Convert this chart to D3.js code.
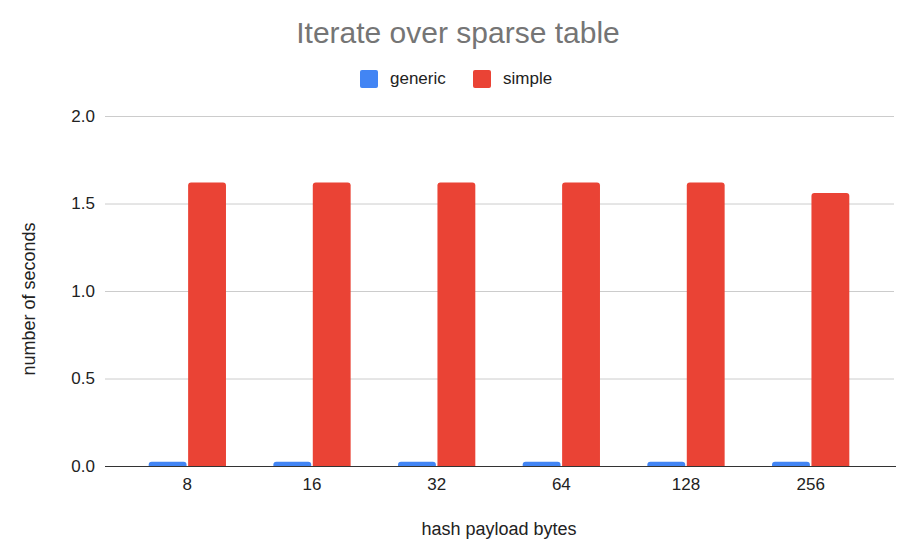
<!DOCTYPE html>
<html>
<head>
<meta charset="utf-8">
<script src="https://cdn.jsdelivr.net/npm/d3@7"></script>
<style>
  body { margin: 0; background: #fff; }
  text { font-family: 'Liberation Sans', Arial, sans-serif; }
</style>
</head>
<body>
<svg width="912" height="549"></svg>
<script>
'use strict'

const categories = ['8', '16', '32', '64', '128', '256']
const seriesNames = ['generic', 'simple']
const genericValues = [0.025, 0.025, 0.025, 0.025, 0.025, 0.025]
const simpleValues = [1.62, 1.62, 1.62, 1.62, 1.62, 1.56]
const yTicks = [0, 0.5, 1.0, 1.5, 2.0]
const colors = ['#4285f4', '#ea4335']

const svg = d3.select('body svg')
const margin = { left: 105, right: 18, top: 116, bottom: 83 }
const width = 912 - margin.left - margin.right
const height = 549 - margin.top - margin.bottom

const rows = categories.map((c, i) => ({ cat: c, values: [genericValues[i], simpleValues[i]] }))

const xScale = d3.scaleBand().domain(categories).range([20, width - 21])
const xSub = d3.scaleBand().domain(seriesNames)
  .range([xScale.bandwidth() * 0.19, xScale.bandwidth() * 0.81]).paddingInner(0.04)
const yScale = d3.scaleLinear().domain([0, 2]).range([height, 0])

const g = svg.append('g').attr('transform', `translate(${margin.left}, ${margin.top})`)

// grid + y labels
const yAxis = d3.axisLeft(yScale).tickValues(yTicks).tickSize(-width)
  .tickFormat(d3.format('.1f')).tickPadding(10)
g.append('g').classed('yAxis', true).call(yAxis)
g.select('g.yAxis path.domain').remove()
g.selectAll('g.yAxis g.tick line').style('stroke', '#cccccc')
g.selectAll('g.yAxis g.tick text').style('font-size', '17px').style('fill', '#222')

// bars
const groups = g.selectAll('g.grp').data(rows).enter().append('g').classed('grp', true)
  .attr('transform', (d) => `translate(${xScale(d.cat)}, 0)`)
groups.selectAll('path').data((d) => d.values.map((v, i) => ({ v, i })))
  .enter().append('path')
  .attr('fill', (d) => colors[d.i])
  .attr('d', (d) => {
    const x = xSub(seriesNames[d.i])
    const w = xSub.bandwidth()
    const y = yScale(d.v)
    const h = height - y
    const r = Math.min(3, h)
    return `M${x},${height}V${y + r}Q${x},${y} ${x + r},${y}H${x + w - r}Q${x + w},${y} ${x + w},${y + r}V${height}Z`
  })

// x axis
const xAxis = d3.axisBottom(xScale).tickSize(0).tickPadding(12)
g.append('g').classed('xAxis', true).attr('transform', `translate(0, ${height})`).call(xAxis)
g.select('g.xAxis path.domain').attr('d', `M0,0.5H${width + 2}`)
  .style('stroke', '#333').style('stroke-width', '1.2')
g.selectAll('g.xAxis g.tick text').style('font-size', '17px').style('fill', '#222')

// title
svg.append('text').attr('x', 458).attr('y', 43).attr('text-anchor', 'middle')
  .style('font-size', '30px').style('fill', '#757575').text('Iterate over sparse table')

// legend
const legendX = [360, 473]
seriesNames.forEach((name, i) => {
  svg.append('rect').attr('x', legendX[i]).attr('y', 70).attr('width', 18).attr('height', 18)
    .attr('rx', 2).attr('fill', colors[i])
  svg.append('text').attr('x', legendX[i] + 30).attr('y', 84)
    .style('font-size', '17px').style('fill', '#222').text(name)
})

// axis titles
svg.append('text').attr('x', 499).attr('y', 535).attr('text-anchor', 'middle')
  .style('font-size', '18px').style('fill', '#222').text('hash payload bytes')
svg.append('text').attr('transform', 'translate(35, 299) rotate(-90)')
  .attr('text-anchor', 'middle').style('font-size', '18px').style('fill', '#222').text('number of seconds')
</script>
</body>
</html>
